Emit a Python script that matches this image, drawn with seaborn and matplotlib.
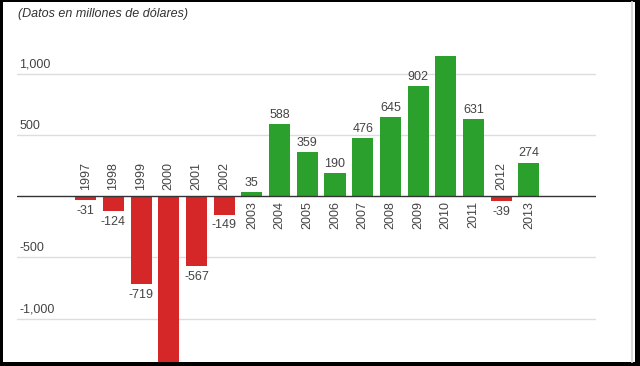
import matplotlib
matplotlib.use("Agg")
import matplotlib.pyplot as plt
from matplotlib.patches import Rectangle
from matplotlib.lines import Line2D
import seaborn as sns
import pandas as pd

years = ["1997", "1998", "1999", "2000", "2001", "2002", "2003", "2004", "2005",
         "2006", "2007", "2008", "2009", "2010", "2011", "2012", "2013"]
values = [-31, -124, -719, -1450, -567, -149, 35, 588, 359,
          190, 476, 645, 902, 1145, 631, -39, 274]
value_labels = ["-31", "-124", "-719", "", "-567", "-149", "35", "588", "359",
                "190", "476", "645", "902", "", "631", "-39", "274"]
ytick_values = [1000, 500, -500, -1000]
ytick_labels = ["1,000", "500", "-500", "-1,000"]
title = "(Datos en millones de dólares)"

sns.set_style("white")
plt.rcParams["font.family"] = ["Liberation Sans", "DejaVu Sans"]

RED = "#d62728"
GREEN = "#2ca02c"
TXT = "#444444"

df = pd.DataFrame({"year": years, "value": values})
df["sign"] = ["neg" if v < 0 else "pos" for v in values]

W, H = 640, 366
fig = plt.figure(figsize=(W / 100, H / 100), dpi=100)
fig.patch.set_facecolor("black")
fig.add_artist(Rectangle((3 / W, (H - 362) / H), (635 - 3) / W, (362 - 2) / H,
                         transform=fig.transFigure, facecolor="white",
                         edgecolor="none", zorder=-2))
fig.add_artist(Line2D([632 / W, 632 / W], [(H - 362) / H, (H - 2) / H],
                      transform=fig.transFigure, color="#d9d9d9", lw=1.5, zorder=-1))

ax_left, ax_right = 17, 596
ax_top, ax_bot = 30, 362
ax = fig.add_axes([ax_left / W, (H - ax_bot) / H, (ax_right - ax_left) / W,
                   (ax_bot - ax_top) / H])
ax.set_facecolor("none")

sns.barplot(data=df, x="year", y="value", hue="sign",
            palette={"neg": RED, "pos": GREEN}, dodge=False, width=0.76,
            saturation=1, legend=False, ax=ax, edgecolor="none", zorder=3)

px_per_unit = 0.1223
zero_px = 196.3
ax.set_ylim(-(ax_bot - zero_px) / px_per_unit, (zero_px - ax_top) / px_per_unit)
x0, step = 85.7, 27.7
ax.set_xlim((ax_left - x0) / step, (ax_right - x0) / step)

for s in ax.spines.values():
    s.set_visible(False)
ax.set_xticks([])
ax.set_yticks([])
ax.set_xlabel("")
ax.set_ylabel("")

for v, lab in zip(ytick_values, ytick_labels):
    ax.axhline(v, color="#dddddd", lw=1, zorder=1)
    ax.annotate(lab, xy=(0, v), xycoords=("axes fraction", "data"),
                xytext=(1.5, 2.5), textcoords="offset points",
                ha="left", va="bottom", fontsize=9, color=TXT)
ax.axhline(0, color="#333333", lw=1, zorder=4)

for i, (y, v, lab) in enumerate(zip(years, values, value_labels)):
    if v >= 0:
        if lab:
            ax.annotate(lab, xy=(i, v), xytext=(0, 2.5), textcoords="offset points",
                        ha="center", va="bottom", fontsize=9, color=TXT)
        ax.annotate(y, xy=(i, 0), xytext=(0, -3.5), textcoords="offset points",
                    ha="center", va="top", rotation=90, fontsize=9, color=TXT)
    else:
        if lab:
            ax.annotate(lab, xy=(i, v), xytext=(0, -3.5), textcoords="offset points",
                        ha="center", va="top", fontsize=9, color=TXT)
        ax.annotate(y, xy=(i, 0), xytext=(0, 4.5), textcoords="offset points",
                    ha="center", va="bottom", rotation=90, fontsize=9, color=TXT)

fig.text(18 / W, 1 - 8 / H, title, ha="left", va="top", fontsize=9,
         style="italic", color="#333333")

fig.savefig("out.png", dpi=100, facecolor=fig.get_facecolor())
